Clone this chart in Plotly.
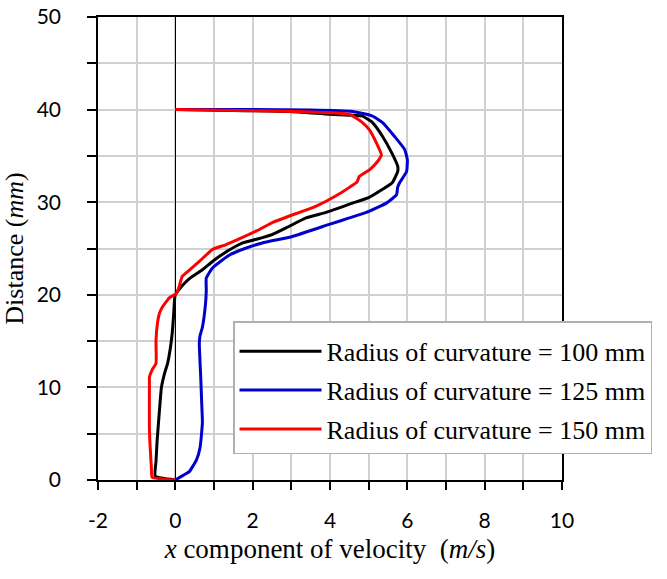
import plotly.graph_objects as go

# Radius of curvature = 100 mm
v100 = [0, -0.52, -0.50, -0.47, -0.42, -0.36, -0.28, -0.20, -0.12, -0.08, -0.05, -0.02, 0.0, 0.10, 0.25, 0.38,
        0.70, 0.96, 1.30, 1.74, 2.10, 2.50, 2.90, 3.38, 3.90, 4.58, 5.00, 5.36, 5.61, 5.75, 5.75, 5.60, 5.36,
        5.10, 4.84, 4.50, 3.98, 2.95, 1.50, 0]
d100 = [0, 0.4, 2.0, 4.3, 7.0, 10.0, 11.5, 12.6, 14.5, 15.9, 17.5, 19.5, 20.0, 20.6, 21.3, 21.8,
        22.7, 23.6, 24.6, 25.6, 26.0, 26.5, 27.3, 28.3, 28.9, 29.9, 30.5, 31.4, 32.1, 33.3, 33.9, 35.3, 37.1,
        38.6, 39.3, 39.4, 39.5, 39.8, 39.9, 40]

# Radius of curvature = 125 mm
v125 = [0, 0.20, 0.36, 0.55, 0.64, 0.70, 0.68, 0.66, 0.62, 0.64, 0.70, 0.78, 0.80, 0.80, 0.96, 1.20, 1.40,
        1.80, 2.25, 3.03, 3.98, 4.50, 4.94, 5.46, 5.72, 5.75, 5.80, 5.98, 6.00, 5.93, 5.67, 5.36, 5.10, 4.58,
        3.50, 2.00, 0]
d125 = [0, 0.5, 0.9, 2.2, 3.5, 6.2, 8.5, 10.8, 14.8, 15.6, 16.5, 19.0, 20.5, 21.8, 22.9, 23.7, 24.3,
        25.0, 25.6, 26.3, 27.6, 28.3, 28.9, 29.9, 30.8, 31.6, 32.1, 33.3, 34.6, 35.7, 37.1, 38.6, 39.3, 39.8,
        39.95, 40.0, 40]

# Radius of curvature = 150 mm
v150 = [0, -0.60, -0.62, -0.67, -0.67, -0.67, -0.60, -0.50, -0.50, -0.46, -0.41, -0.33, -0.15, 0.02, 0.10,
        0.18, 0.40, 0.62, 0.96, 1.30, 1.58, 2.10, 2.51, 3.21, 3.60, 3.90, 4.20, 4.32, 4.50, 4.70, 4.76, 5.02,
        5.23, 5.33, 5.20, 5.02, 4.81, 4.50, 3.80, 2.50, 0]
d150 = [0, 0.3, 1.4, 5.4, 10.8, 11.1, 11.9, 12.6, 15.1, 17.0, 18.0, 18.7, 19.7, 20.1, 20.9,
        22.0, 22.8, 23.6, 24.9, 25.4, 25.9, 26.9, 27.8, 28.9, 29.5, 30.1, 30.8, 31.1, 31.6, 32.2, 32.8, 33.5,
        34.4, 35.1, 36.4, 37.8, 38.7, 39.5, 39.7, 39.85, 40]

names = ["Radius of curvature = 100 mm", "Radius of curvature = 125 mm", "Radius of curvature = 150 mm"]
colors = ["#000000", "#0000CC", "#FF0000"]
series = [(v100, d100), (v125, d125), (v150, d150)]

x_tickvals = [-2, 0, 2, 4, 6, 8, 10]
x_ticktext = ["-2", "0", "2", "4", "6", "8", "10"]
y_tickvals = [0, 10, 20, 30, 40, 50]
y_ticktext = ["0", "10", "20", "30", "40", "50"]

fig = go.Figure()
for i, ((vx, dy), nm, c) in enumerate(zip(series, names, colors)):
    fig.add_trace(go.Scatter(x=vx, y=dy, mode="lines", name=nm, legendgroup=f"g{i}",
                             line=dict(color=c, width=3, shape="spline", smoothing=0.4)))

tickfont = dict(family="Lato, Open Sans, sans-serif", size=21, color="#000")
serif = "Liberation Serif, Times New Roman, serif"

fig.update_layout(
    width=667, height=579,
    margin=dict(l=98, r=105, t=17, b=99),
    plot_bgcolor="white", paper_bgcolor="white",
    showlegend=True,
    legend=dict(x=0.291, y=0.343, xanchor="left", yanchor="top",
                font=dict(family=serif, size=26, color="#000"),
                bordercolor="#b0b0b0", borderwidth=1.5, bgcolor="white",
                tracegroupgap=2, itemwidth=82,
                title=dict(text=" ", font=dict(size=4))),
    xaxis=dict(range=[-2, 10], tickvals=x_tickvals, ticktext=x_ticktext, automargin=False,
               showgrid=True, gridcolor="#d0d0d0", gridwidth=1.5,
               showline=True, linecolor="#000", linewidth=1.5, mirror=True,
               ticks="outside", ticklen=8, tickcolor="#000", tickwidth=1.5,
               minor=dict(dtick=1, tick0=0, showgrid=True, gridcolor="#d0d0d0", gridwidth=1.5,
                          ticks="outside", ticklen=8, tickcolor="#000", tickwidth=1.5),
               zeroline=True, zerolinecolor="#000", zerolinewidth=1,
               tickfont=tickfont, ticklabelstandoff=13,
               title=dict(text="<i>x</i> component of velocity&nbsp;&nbsp;(<i>m/s</i>)",
                          font=dict(family=serif, size=27, color="#000"), standoff=8)),
    yaxis=dict(range=[0, 50], tickvals=y_tickvals, ticktext=y_ticktext, automargin=False,
               showgrid=True, gridcolor="#d0d0d0", gridwidth=1.5,
               showline=True, linecolor="#000", linewidth=1.5, mirror=True,
               ticks="outside", ticklen=9, tickcolor="#000", tickwidth=1.5,
               minor=dict(dtick=5, tick0=0, showgrid=True, gridcolor="#d0d0d0", gridwidth=1.5,
                          ticks="outside", ticklen=9, tickcolor="#000", tickwidth=1.5),
               zeroline=False,
               tickfont=tickfont, ticklabelstandoff=22,
               title=dict(text="Distance (<i>mm</i>)",
                          font=dict(family=serif, size=26, color="#000"), standoff=6)),
)

fig.write_html("out.html")
